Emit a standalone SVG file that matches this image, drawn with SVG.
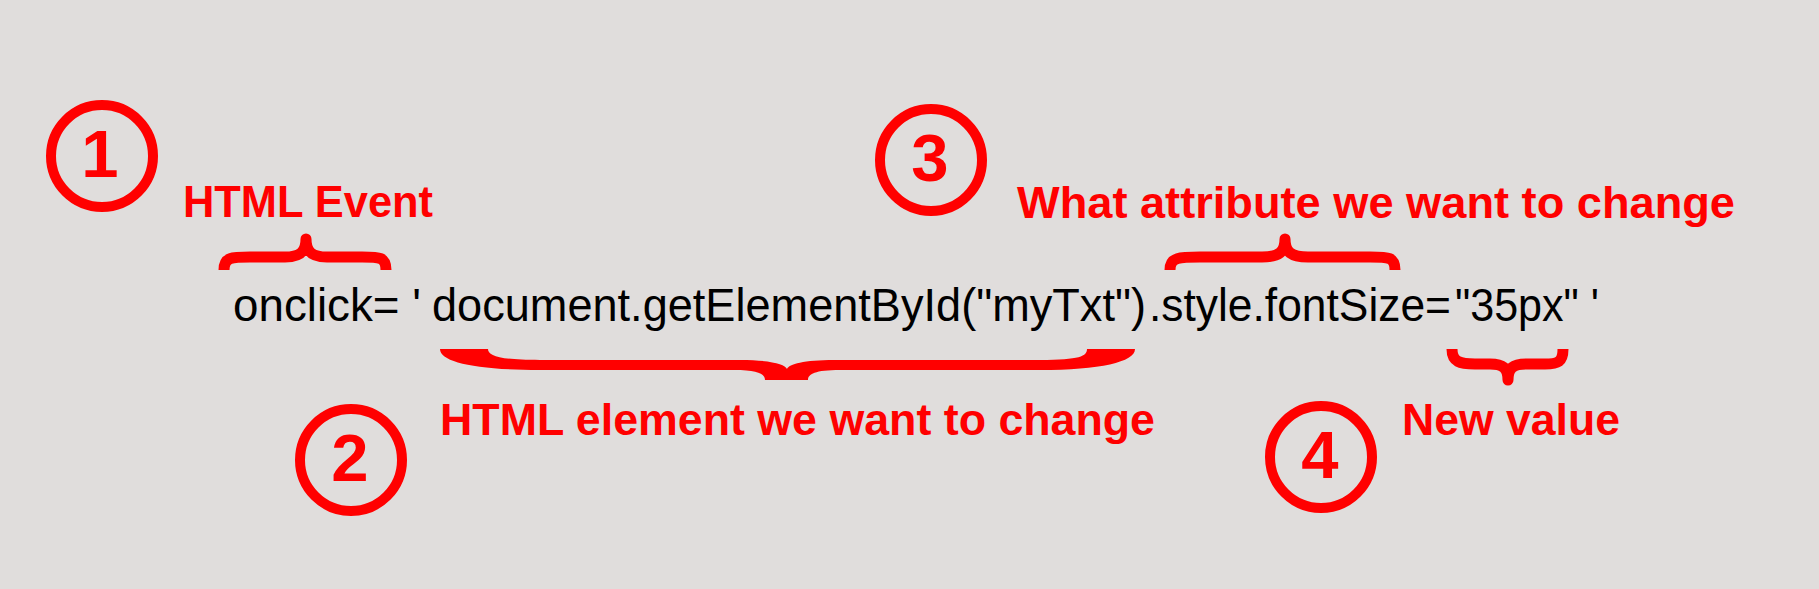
<svg xmlns="http://www.w3.org/2000/svg" width="1819" height="589" viewBox="0 0 1819 589">
  <style>
    .ring { fill: none; stroke: #ff0000; stroke-width: 10; }
    .num { font-family: "Liberation Sans", Arial, sans-serif; font-weight: bold; font-size: 67px; fill: #ff0000; text-anchor: middle; }
    .lbl { font-family: "Liberation Sans", Arial, sans-serif; font-weight: bold; font-size: 45px; fill: #ff0000; }
    .code { font-family: "Liberation Sans", Arial, sans-serif; font-size: 46px; fill: #000000; }
    .brace { fill: none; stroke: #ff0000; stroke-width: 11; stroke-linejoin: round; }
    .brace-fill { fill: #ff0000; stroke: none; }
  </style>
  <rect x="0" y="0" width="1819" height="589" fill="#e0dddc"/>

  <g id="code">
    <text class="code" x="233" y="321" textLength="188" lengthAdjust="spacingAndGlyphs">onclick= '</text>
    <text class="code" x="432" y="321" textLength="714" lengthAdjust="spacingAndGlyphs">document.getElementById("myTxt")</text>
    <text class="code" x="1149" y="321" textLength="302" lengthAdjust="spacingAndGlyphs">.style.fontSize=</text>
    <text class="code" x="1455" y="321" textLength="144" lengthAdjust="spacingAndGlyphs">"35px" '</text>
  </g>

  <g id="node1">
    <circle class="ring" cx="102" cy="156" r="51"/>
    <text class="num" x="100" y="177">1</text>
    <text class="lbl" x="183" y="217" textLength="250" lengthAdjust="spacingAndGlyphs">HTML Event</text>
  </g>

  <g id="node2">
    <circle class="ring" cx="351" cy="460" r="51"/>
    <text class="num" x="350" y="481">2</text>
    <text class="lbl" x="440" y="435" textLength="715" lengthAdjust="spacingAndGlyphs">HTML element we want to change</text>
  </g>

  <g id="node3">
    <circle class="ring" cx="931" cy="160" r="51"/>
    <text class="num" x="930" y="181">3</text>
    <text class="lbl" x="1017" y="218" textLength="718" lengthAdjust="spacingAndGlyphs">What attribute we want to change</text>
  </g>

  <g id="node4">
    <circle class="ring" cx="1321" cy="457" r="51"/>
    <text class="num" x="1320" y="478">4</text>
    <text class="lbl" x="1402" y="435" textLength="218" lengthAdjust="spacingAndGlyphs">New value</text>
  </g>

  <g id="connectors">
    <path class="brace" d="M224,270 C224,257 232,257 250,257 L285,257 C300,257 306,252 306,239 C306,252 312,257 327,257 L362,257 C380,257 386,257 386,270"/>
    <path class="brace" d="M1170,270 C1170,257 1180,257 1200,257 L1262,257 C1279,257 1285,252 1285,239 C1285,252 1291,257 1308,257 L1370,257 C1389,257 1395,257 1395,270"/>
    <path class="brace-fill" d="M440,349 L488,349 C488,356 500,360 540,360 L740,360 C770,360 785,364 787,369 C789,364 804,360 834,360 L1040,360 C1080,360 1087,356 1087,349 L1135,349 C1135,362 1100,370 1040,370 L840,370 C815,370 808,374 808,380 L765,380 C765,374 758,370 734,370 L540,370 C475,370 440,362 440,349 Z"/>
    <path class="brace" d="M1452,349 C1452,362 1460,364 1475,364 L1490,364 C1503,364 1508,368 1508,380 C1508,368 1513,364 1526,364 L1545,364 C1558,364 1563,362 1563,349"/>
  </g>
</svg>
